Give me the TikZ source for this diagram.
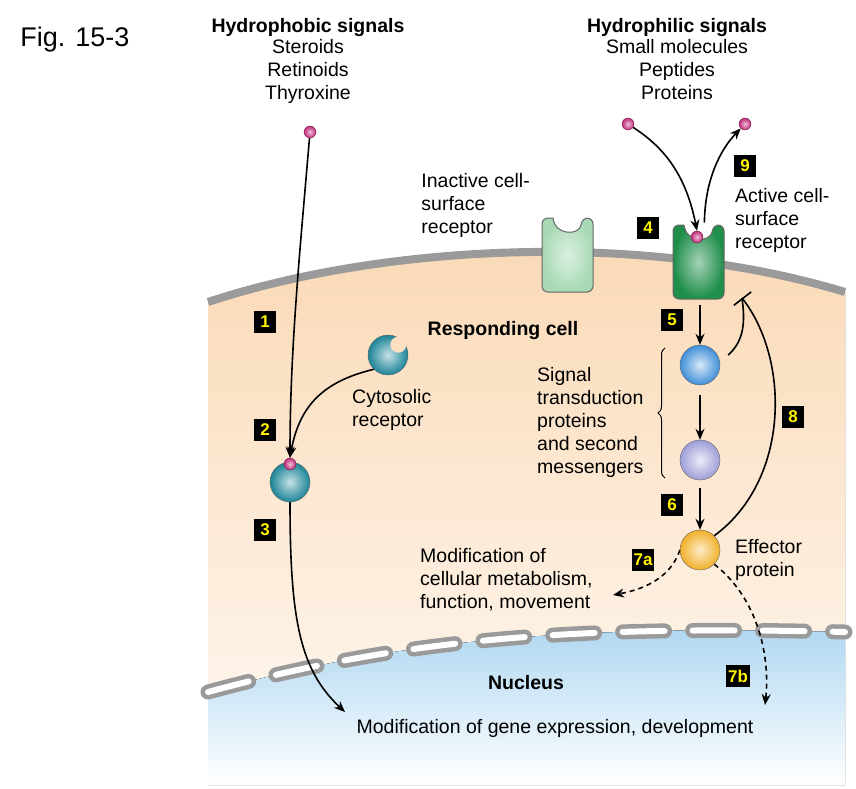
\documentclass[tikz,border=0pt]{standalone}
\usepackage{fontspec}
\setmainfont{Liberation Sans}
\usetikzlibrary{positioning, arrows.meta, decorations.pathreplacing}

\definecolor{ligand}{HTML}{C02A7A}
\definecolor{teal}{HTML}{1B8496}
\definecolor{greenon}{HTML}{1E8E4A}
\definecolor{greenoff}{HTML}{A8D9B4}
\definecolor{peach}{HTML}{FAD9B5}
\definecolor{nucblue}{HTML}{AED7F1}
\definecolor{memgray}{HTML}{9A9A9A}
\definecolor{sigblue}{HTML}{3F8FD8}
\definecolor{siglav}{HTML}{9E9ED8}
\definecolor{effor}{HTML}{F2B02A}

\tikzset{
  txt/.style={font=\fontsize{19.5}{23}\selectfont, align=center, inner sep=0pt},
  bold/.style={txt, font=\fontsize{19.5}{23}\selectfont\bfseries},
  numbox/.style={fill=black, text=yellow, font=\fontsize{17}{17}\selectfont\bfseries,
    inner sep=2pt, minimum width=22pt, minimum height=22pt},
  dot/.style={circle, inner color=ligand!30, outer color=ligand, draw=ligand!60!black, inner sep=0pt, minimum size=12pt},
  prot/.style={circle, draw=black!60, inner sep=0pt, minimum size=40pt},
  arr/.style={-{Stealth[length=11pt,width=9pt]}, line width=1.6pt},
  darr/.style={arr, dashed, dash pattern=on 5pt off 4pt},
  inhib/.style={-{Bar[width=22pt]}, line width=1.6pt}
}

\begin{document}
\begin{tikzpicture}[x=1pt, y=-1pt]
  \useasboundingbox (0,0) rectangle (856,789);

  % Cytoplasm and nucleus
  \fill[top color=peach, bottom color=peach!30] (208,302) .. controls (380,245) and (640,230) .. (845,292)
    -- (845,632) .. controls (560,625) and (400,640) .. (208,692) -- cycle;
  \fill[top color=nucblue, bottom color=white] (208,692) .. controls (400,640) and (560,625) .. (845,632)
    -- (845,785) -- (208,785) -- cycle;
  \draw[memgray, line width=8pt] (208,302) .. controls (380,245) and (640,230) .. (845,292);

  % Nuclear envelope
  \draw[memgray, line width=15pt, line cap=round, dash pattern=on 42pt off 28pt]
    (208,692) .. controls (400,640) and (560,625) .. (845,632);
  \draw[white, line width=6pt, line cap=round, dash pattern=on 42pt off 28pt]
    (208,692) .. controls (400,640) and (560,625) .. (845,632);

  % Titles
  \node[txt, font=\fontsize{27}{30}\selectfont] (fig) at (75,40) {Fig. 15-3};
  \node[bold] (phob) at (308,28) {Hydrophobic signals};
  \node[txt, below=2pt of phob] (phobl) {Steroids\\Retinoids\\Thyroxine};
  \node[bold] (phil) at (677,28) {Hydrophilic signals};
  \node[txt, below=2pt of phil] (phill) {Small molecules\\Peptides\\Proteins};

  % Receptors
  \foreach \nm/\x/\y/\col in {inact/542/218/greenoff, act/673/225/greenon} {
    \shade[inner color=white!60!\col, outer color=\col, draw=black!60, line width=1pt, rounded corners=6pt]
      (\x,\y) -- (\x,\y+74) -- (\x+51,\y+74) -- (\x+51,\y) -- (\x+40,\y)
      [sharp corners] .. controls (\x+38,\y+18) and (\x+13,\y+18) .. (\x+11,\y) [rounded corners=6pt] -- cycle;
    \coordinate (\nm) at (\x+25.5,\y+37);
  }
  \node[txt, align=left, anchor=east] (inactl) at (530,205) {Inactive cell-\\surface\\receptor};
  \node[txt, align=left, anchor=west] (actl) at (735,220) {Active cell-\\surface\\receptor};

  % Ligands
  \node[dot] (lig1) at (310,132) {};
  \node[dot] (lig2) at (628,124) {};
  \node[dot] (lig3) at (745,124) {};
  \node[dot] (ligr) at (697,237) {};

  % Proteins
  \node[prot, inner color=teal!25, outer color=teal] (cyto) at (388,355) {};
  \fill[peach!85] (cyto.north east) ++(-4,4) circle (8pt);
  \node[prot, inner color=teal!25, outer color=teal] (bound) at (290,482) {};
  \node[dot] (ligb) at (290,464) {};
  \node[prot, inner color=sigblue!20, outer color=sigblue] (sig1) at (700,365) {};
  \node[prot, inner color=siglav!20, outer color=siglav] (sig2) at (700,460) {};
  \node[prot, inner color=effor!25, outer color=effor] (eff) at (700,550) {};

  % Labels
  \node[bold] (resp) at (503,330) {Responding cell};
  \node[txt, align=left, anchor=west] (cytol) at (352,410) {Cytosolic\\receptor};
  \node[txt, align=left, anchor=west] (sigl) at (537,422) {Signal\\transduction\\proteins\\and second\\messengers};
  \node[txt, align=left, anchor=west] (effl) at (735,560) {Effector\\protein};
  \node[txt, align=left, anchor=west] (metab) at (420,580) {Modification of\\cellular metabolism,\\function, movement};
  \node[bold] (nuc) at (526,683) {Nucleus};
  \node[txt] (gene) at (555,728) {Modification of gene expression, development};
  \draw[decorate, decoration={brace, amplitude=7pt}, line width=1pt] (665,478) -- (665,348);

  % Step markers
  \node[numbox] (s1) at (265,322) {1};
  \node[numbox] (s2) at (265,430) {2};
  \node[numbox] (s3) at (265,530) {3};
  \node[numbox] (s4) at (648,228) {4};
  \node[numbox] (s5) at (672,320) {5};
  \node[numbox] (s6) at (672,505) {6};
  \node[numbox] (s7a) at (643,560) {7a};
  \node[numbox] (s7b) at (738,676) {7b};
  \node[numbox] (s8) at (793,417) {8};
  \node[numbox] (s9) at (745,166) {9};

  % Connectors
  \draw[arr] (lig1) .. controls (300,250) and (290,350) .. (ligb.north);
  \draw[arr] (cyto.south west) .. controls (330,380) and (300,400) .. (ligb.north);
  \draw[arr] (bound.south) .. controls (290,620) and (300,670) .. (345,712);
  \draw[arr] (lig2) .. controls (660,145) and (685,170) .. (ligr.north);
  \draw[arr] (ligr.north east) ++(3,-10) coordinate (up) .. controls (705,180) and (720,150) .. (lig3);
  \draw[arr] (700,305) -- (sig1.north);
  \draw[arr] (sig1.south) ++(0,10) coordinate (a1) -- (sig2.north);
  \draw[arr] (sig2.south) ++(0,8) coordinate (a2) -- (eff.north);
  \coordinate (bar) at (742,298);
  \draw[inhib] (eff.north east) .. controls (790,480) and (790,360) .. (bar);
  \draw[line width=1.6pt] (sig1.east) ++(8,-10) .. controls (745,340) and (745,320) .. (bar);
  \draw[darr] (eff.west) .. controls (670,580) and (640,590) .. (613,595);
  \draw[darr] (eff.south east) .. controls (760,600) and (770,660) .. (765,705);
\end{tikzpicture}
\end{document}
